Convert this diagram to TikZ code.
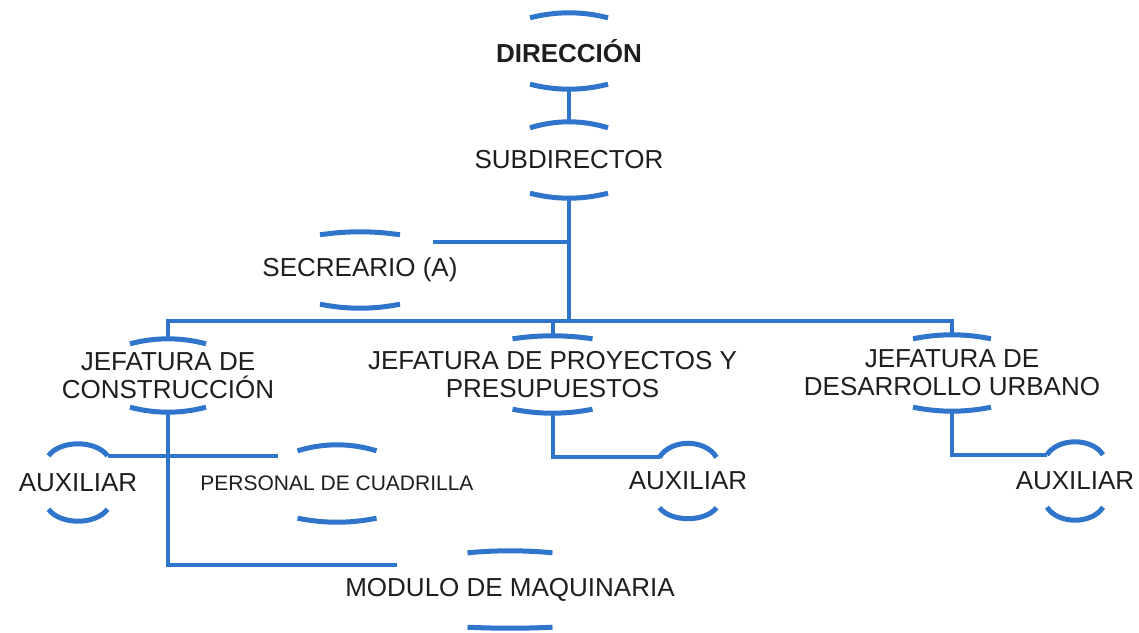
\documentclass[tikz,border=0pt]{standalone}
\usepackage{fontspec}
\setmainfont{Liberation Sans}
\usetikzlibrary{calc}
\definecolor{lineblue}{RGB}{47,117,204}
\definecolor{txtgray}{RGB}{30,30,30}
% #1 node, #2 half width, #3 top end drop, #4 bottom end rise, #5 control x factor
\newcommand\capArcs[5]{%
  \draw[arcline] ($(#1.north)+(-#2,#3)$) coordinate (#1-tl)
    .. controls ($(#1.north)+({-#2*#5},{-#3/3})$) and ($(#1.north)+({#2*#5},{-#3/3})$)
    .. ($(#1.north)+(#2,#3)$) coordinate (#1-tr);
  \draw[arcline] ($(#1.south)+(-#2,-#4)$) coordinate (#1-bl)
    .. controls ($(#1.south)+({-#2*#5},{#4/3})$) and ($(#1.south)+({#2*#5},{#4/3})$)
    .. ($(#1.south)+(#2,-#4)$) coordinate (#1-br);
}
\begin{document}
\begin{tikzpicture}[x=1pt,y=-1pt,
  box/.style={inner sep=0pt, align=center, text=txtgray,
    font=\fontsize{26}{28}\selectfont},
  smallbox/.style={box, font=\fontsize{21}{25}\selectfont},
  arcline/.style={draw=lineblue, line width=5pt},
  conn/.style={draw=lineblue, line width=4pt}]
\useasboundingbox[fill=white] (0,0) rectangle (1139,632);

% nodes
\node[box, minimum height=76, font=\fontsize{26}{28}\selectfont\bfseries] (dir) at (569,51) {DIRECCIÓN};
\node[box, minimum height=76] (sub) at (569,160) {SUBDIRECTOR};
\node[box, minimum height=76] (sec) at (360,270) {SECREARIO (A)};
\node[box, minimum height=73] (con) at (168,375.5) {JEFATURA DE\\CONSTRUCCIÓN};
\node[box, minimum height=77] (pro) at (552.5,374.5) {JEFATURA DE PROYECTOS Y\\PRESUPUESTOS};
\node[box, minimum height=76] (des) at (952,373) {JEFATURA DE\\DESARROLLO URBANO};
\node[box, minimum height=77] (aux1) at (78,482.5) {AUXILIAR};
\node[smallbox, minimum height=77] (per) at (337,483.5) {PERSONAL DE CUADRILLA};
\node[box, minimum height=75] (aux2) at (688,481) {AUXILIAR};
\node[box, minimum height=78] (aux3) at (1075,481) {AUXILIAR};
\node[box, minimum height=77] (mod) at (510,589.5) {MODULO DE MAQUINARIA};

% arcs
\capArcs{dir}{39}{5}{5}{0.33}
\capArcs{sub}{39}{6}{5}{0.33}
\capArcs{sec}{40}{3}{4}{0.33}
\capArcs{con}{38}{5}{5}{0.33}
\capArcs{pro}{40}{3}{4}{0.33}
\capArcs{des}{39}{4}{4}{0.33}
\capArcs{aux1}{29.5}{12}{12}{0.6}
\capArcs{per}{39.5}{6}{4}{0.33}
\capArcs{aux2}{28.5}{14}{11}{0.6}
\capArcs{aux3}{28}{13}{13}{0.6}
\capArcs{mod}{42.5}{2}{1}{0.33}

% junction coordinates
\coordinate (bus) at (569,321);
\coordinate (secj) at (433,242);
\coordinate (perj) at (278,457);
\coordinate (modj) at (397,565);

% connectors
\draw[conn] (dir.south) -- (sub.north);
\draw[conn] (sub.south) -- (bus);
\draw[conn] (secj) -- (secj -| sub.south);
\draw[conn] (con.north) |- (bus) -| (des.north);
\draw[conn] (pro.north) -- (pro.north |- bus);
\draw[conn] (con.south) |- (modj);
\draw[conn] (aux1-tr) -- (aux1-tr -| perj);
\draw[conn] (pro.south) |- (aux2-tl);
\draw[conn] (des.south) |- (aux3-tl);
\end{tikzpicture}
\end{document}
